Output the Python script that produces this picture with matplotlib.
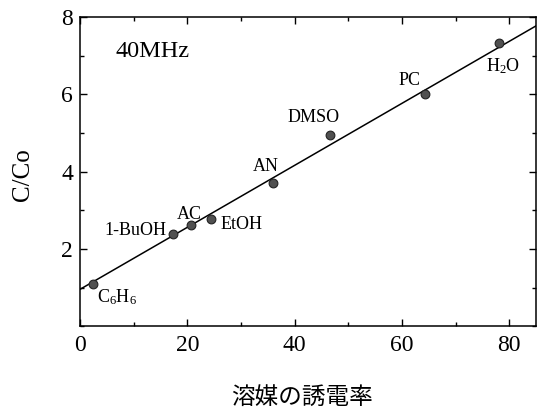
import matplotlib
matplotlib.use("Agg")
import matplotlib.pyplot as plt
from matplotlib.ticker import MultipleLocator

plt.rcParams['font.family'] = ['Liberation Serif', 'Noto Sans CJK JP', 'DejaVu Sans']
plt.rcParams['mathtext.fontset'] = 'custom'
plt.rcParams['mathtext.rm'] = 'Liberation Serif'
plt.rcParams['mathtext.it'] = 'Liberation Serif'

# solvent, dielectric constant, C/Co
solvents = ['C$_6$H$_6$', '1-BuOH', 'AC', 'EtOH', 'AN', 'DMSO', 'PC', 'H$_2$O']
eps = [2.4, 17.4, 20.7, 24.5, 36.0, 46.6, 64.3, 78.1]
ratio = [1.09, 2.38, 2.62, 2.79, 3.71, 4.95, 6.01, 7.34]

# fitted line ends
fit_x = [0, 85]
fit_y = [0.96, 7.77]

# label offsets in points (dx, dy, ha)
offsets = [(3, -9, 'left'), (-5, 3, 'right'), (-1, 8, 'center'), (6.5, -4, 'left'),
           (-5.5, 12, 'center'), (-12, 12.5, 'center'), (-11, 9.5, 'center'), (3, -17, 'center')]

fig = plt.figure(figsize=(5.39, 4.08), dpi=100)
ax = fig.add_axes([0.1484, 0.1998, 0.846, 0.7585])

ax.plot(fit_x, fit_y, color='black', lw=1.1, zorder=2)
ax.plot(eps, ratio, 'o', ms=6.3, mfc='#505050', mec='#222222', mew=0.8, zorder=3)

for name, x, y, (dx, dy, ha) in zip(solvents, eps, ratio, offsets):
    ax.annotate(name, (x, y), xytext=(dx, dy), textcoords='offset points',
                ha=ha, va='center', fontsize=13)

ax.text(6.7, 7.1, '40MHz', fontsize=17.5, ha='left', va='center')

ax.set_xlim(0, 85)
ax.set_ylim(0, 8)
ax.xaxis.set_major_locator(MultipleLocator(20))
ax.xaxis.set_minor_locator(MultipleLocator(10))
ax.yaxis.set_major_locator(MultipleLocator(2))
ax.yaxis.set_minor_locator(MultipleLocator(1))
ax.tick_params(which='both', direction='in', top=True, right=True, width=1.0)
ax.tick_params(which='major', length=5, labelsize=17)
ax.tick_params(which='minor', length=3)
ax.tick_params(axis='x', pad=6)
ax.tick_params(axis='y', pad=5)
ax.set_yticks([2, 4, 6, 8])
for s in ax.spines.values():
    s.set_linewidth(1.1)

ax.set_ylabel('C/Co', fontsize=18)
ax.yaxis.set_label_coords(-0.1, 0.49)
ax.set_xlabel('溶媒の誘電率', fontsize=17)
ax.xaxis.set_label_coords(0.487, -0.195)

fig.savefig('out.png', dpi=100)
